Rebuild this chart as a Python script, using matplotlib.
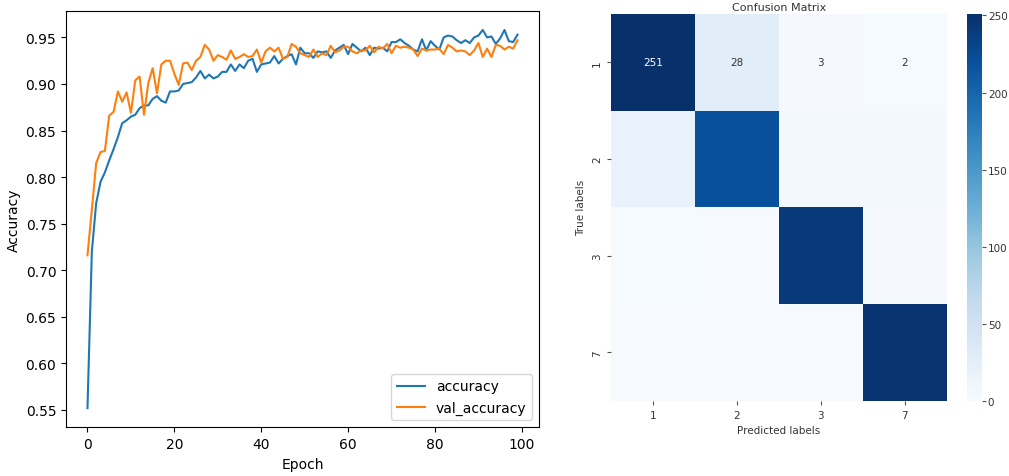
import numpy as np
import matplotlib
matplotlib.use("Agg")
import matplotlib.pyplot as plt

# ---- training history ----
accuracy = [0.552, 0.720, 0.772, 0.795, 0.805, 0.818, 0.830, 0.843, 0.858, 0.861,
            0.865, 0.867, 0.874, 0.877, 0.877, 0.884, 0.887, 0.882, 0.880, 0.892,
            0.892, 0.893, 0.900, 0.901, 0.902, 0.907, 0.914, 0.906, 0.910, 0.906,
            0.908, 0.913, 0.913, 0.921, 0.914, 0.921, 0.917, 0.925, 0.927, 0.913,
            0.921, 0.922, 0.923, 0.930, 0.922, 0.927, 0.930, 0.932, 0.921, 0.939,
            0.933, 0.933, 0.928, 0.935, 0.934, 0.935, 0.928, 0.936, 0.939, 0.942,
            0.932, 0.943, 0.939, 0.935, 0.939, 0.931, 0.939, 0.938, 0.939, 0.935,
            0.945, 0.945, 0.948, 0.944, 0.941, 0.937, 0.935, 0.948, 0.936, 0.946,
            0.941, 0.937, 0.950, 0.952, 0.951, 0.947, 0.944, 0.947, 0.944, 0.950,
            0.952, 0.958, 0.950, 0.951, 0.943, 0.949, 0.958, 0.946, 0.945, 0.953]

val_accuracy = [0.716, 0.765, 0.815, 0.827, 0.828, 0.866, 0.870, 0.892, 0.881, 0.891,
                0.869, 0.904, 0.908, 0.867, 0.901, 0.917, 0.890, 0.921, 0.925, 0.925,
                0.911, 0.899, 0.922, 0.923, 0.915, 0.925, 0.929, 0.942, 0.937, 0.925,
                0.931, 0.929, 0.926, 0.936, 0.927, 0.929, 0.932, 0.929, 0.930, 0.937,
                0.923, 0.935, 0.939, 0.935, 0.939, 0.927, 0.929, 0.943, 0.940, 0.933,
                0.931, 0.929, 0.937, 0.929, 0.933, 0.931, 0.941, 0.934, 0.936, 0.940,
                0.940, 0.935, 0.933, 0.936, 0.936, 0.941, 0.934, 0.940, 0.938, 0.943,
                0.933, 0.941, 0.939, 0.940, 0.939, 0.937, 0.930, 0.938, 0.936, 0.937,
                0.937, 0.938, 0.932, 0.942, 0.939, 0.935, 0.936, 0.935, 0.931, 0.936,
                0.944, 0.929, 0.938, 0.929, 0.942, 0.941, 0.937, 0.940, 0.938, 0.947]

# ---- confusion matrix ----
class_labels = ["1", "2", "3", "7"]
cm = np.array([[251, 28, 3, 2],
               [18, 220, 5, 5],
               [2, 1, 242, 3],
               [1, 1, 1, 248]])

fig = plt.figure(figsize=(10.09, 4.77), dpi=100)

# -------------------------
# Accuracy curves
# -------------------------
ax0 = fig.add_axes([0.0654, 0.1027, 0.4688, 0.872])
epochs = np.arange(len(accuracy))
ax0.plot(epochs, accuracy, label="accuracy")
ax0.plot(epochs, val_accuracy, label="val_accuracy")
ax0.set_xlabel("Epoch")
ax0.set_ylabel("Accuracy")
ax0.yaxis.set_label_coords(-0.095, 0.5)
ax0.xaxis.set_label_coords(0.5, -0.072)
ax0.legend(loc="lower right")

# -------------------------
# Confusion matrix heatmap
# -------------------------
ax1 = fig.add_axes([0.6056, 0.158, 0.3327, 0.8107])
cax = fig.add_axes([0.958, 0.158, 0.0155, 0.8107])

n = len(class_labels)
mesh = ax1.pcolormesh(cm, cmap="Blues", vmin=0, vmax=cm.max())
ax1.set_xlim(0, n)
ax1.set_ylim(n, 0)
for s in ax1.spines.values():
    s.set_visible(False)

ax1.set_xticks(np.arange(n) + 0.5)
ax1.set_xticklabels(class_labels, fontsize=7.5)
ax1.set_yticks(np.arange(n) + 0.5)
ax1.set_yticklabels(class_labels, fontsize=7.5, rotation=90, va="center")
ax1.tick_params(length=3, color="#555555", labelcolor="#333333")
ax1.set_xlabel("Predicted labels", fontsize=7.5, color="#333333")
ax1.set_ylabel("True labels", fontsize=7.5, color="#333333")
ax1.set_title("Confusion Matrix", fontsize=8, pad=3, color="#333333")

# only the first row carries annotations in the reference
for j in range(n):
    val = cm[0, j]
    color = "white" if val > cm.max() * 0.6 else "#333333"
    ax1.text(j + 0.5, 0.5, str(val), ha="center", va="center",
             fontsize=7.5, color=color)

cb = fig.colorbar(mesh, cax=cax)
cb.outline.set_visible(False)
cb.set_ticks([0, 50, 100, 150, 200, 250])
cb.ax.tick_params(labelsize=7.5, length=3, pad=1, color="#555555", labelcolor="#333333")

plt.savefig("out.png", dpi=100)
